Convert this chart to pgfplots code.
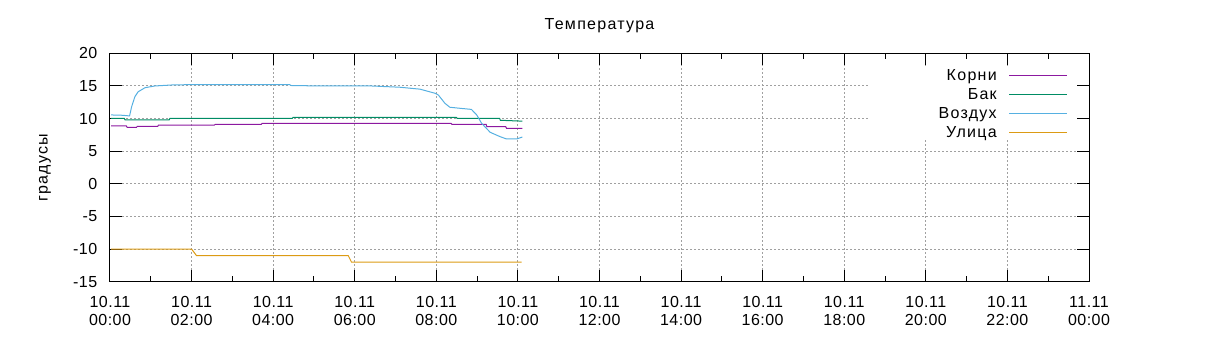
\documentclass[border=0pt]{standalone}
\usepackage{pgfplots}
\pgfplotsset{compat=1.18}
\usepackage{fontspec}
\setmainfont{Liberation Sans}[LetterSpace=3]
\newfontfamily\labfont{Liberation Sans}[LetterSpace=8]
\definecolor{cKorni}{RGB}{140,25,160}
\definecolor{cBak}{RGB}{0,140,100}
\definecolor{cVozd}{RGB}{86,176,225}
\definecolor{cUlica}{RGB}{220,155,20}
\definecolor{cGrid}{RGB}{160,160,160}
\begin{document}
\begin{tikzpicture}
\useasboundingbox (-82.5pt,-55pt) rectangle (827.25pt,211.25pt);
\begin{axis}[
  scale only axis,
  width=734.25pt, height=171.3pt,
  xmin=0, xmax=24, ymin=-15, ymax=20,
  font=\fontsize{12}{13.5}\selectfont,
  axis line style={black, line width=0.75pt},
  tick align=inside,
  xtick pos=both, ytick pos=both,
  major tick length=9pt, minor tick length=4.5pt,
  tick style={black, line width=0.75pt},
  xtick={0,2,...,24},
  minor xtick={1,3,...,23},
  xticklabels={{10.11\\00:00},{10.11\\02:00},{10.11\\04:00},{10.11\\06:00},{10.11\\08:00},{10.11\\10:00},{10.11\\12:00},{10.11\\14:00},{10.11\\16:00},{10.11\\18:00},{10.11\\20:00},{10.11\\22:00},{11.11\\00:00}},
  xticklabel style={align=center, yshift=-7.5pt},
  ytick={-15,-10,...,20},
  yticklabels={-15,-10,-5,0,5,10,15,20},
  yticklabel style={xshift=-6pt},
  grid=major,
  grid style={cGrid, line width=0.75pt, dash pattern=on 1.5pt off 1.5pt},
  title={Температура},
  title style={at={(0.5,1)}, anchor=base, yshift=11.75pt, font=\labfont\fontsize{12}{13.5}\selectfont},
  ylabel={градусы},
  ylabel style={at={(axis description cs:-0.0664,0.5)}, anchor=center, font=\labfont\fontsize{12}{13.5}\selectfont},
  legend plot pos=right,
  legend cell align=right,
  legend style={at={(1,1)}, anchor=north east, xshift=-15.75pt, yshift=-11.5pt,
    draw=none, fill=none, inner sep=0pt, row sep=2.25pt, column sep=9pt,
    font=\labfont\fontsize{12}{13.5}\selectfont,
    nodes={inner sep=0pt, text height=9pt, text depth=3pt}},
  legend image code/.code={\draw[#1, line width=0.75pt] (0pt,1.2pt) -- (43.5pt,1.2pt);},
  every axis plot/.append style={line width=0.75pt, no markers},
]
\fill[white] (axis cs:18.58,6.71) rectangle (axis cs:23.69,18.06);
\addplot[cKorni] coordinates {(0.03,8.86)(0.40,8.86)(0.42,8.66)(0.65,8.66)(0.67,8.8)(1.17,8.8)(1.19,9.0)(2.56,9.0)(2.58,9.12)(3.71,9.12)(3.73,9.27)(8.36,9.27)(8.38,9.12)(9.22,9.12)(9.24,8.75)(9.70,8.75)(9.72,8.5)(10.11,8.5)};
\addlegendentry{Корни}
\addplot[cBak] coordinates {(0.03,10.04)(0.35,10.04)(0.37,9.78)(1.45,9.78)(1.47,10.04)(4.47,10.04)(4.49,10.19)(8.49,10.19)(8.51,10.03)(9.55,10.03)(9.57,9.73)(10.11,9.6)};
\addlegendentry{Бак}
\addplot[cVozd] coordinates {(0.03,10.55)(0.30,10.5)(0.48,10.4)(0.53,11.8)(0.61,13.35)(0.69,14.1)(0.86,14.73)(1.1,14.99)(1.51,15.14)(2.0,15.2)(4.4,15.2)(4.45,15.05)(5.15,15.0)(6.37,15.0)(7.1,14.8)(7.6,14.5)(7.97,13.87)(8.05,13.6)(8.21,12.34)(8.33,11.73)(8.58,11.57)(8.86,11.4)(8.99,10.55)(9.11,9.27)(9.32,7.89)(9.56,7.23)(9.72,6.87)(9.97,6.87)(10.11,7.17)};
\addlegendentry{Воздух}
\addplot[cUlica] coordinates {(0.03,-10)(2.0,-10)(2.12,-11)(5.84,-11)(5.92,-12)(10.09,-12)};
\addlegendentry{Улица}
\end{axis}
\end{tikzpicture}
\end{document}
